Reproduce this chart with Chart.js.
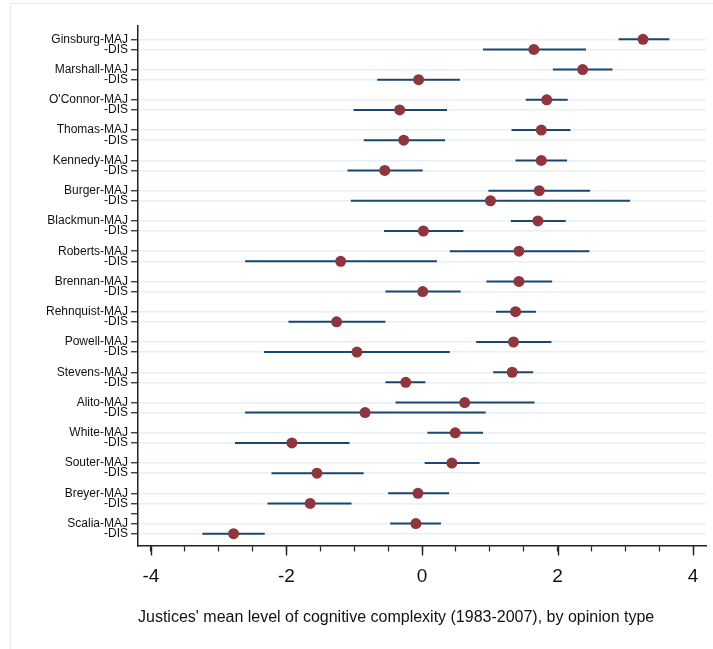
<!DOCTYPE html>
<html>
<head>
<meta charset="utf-8">
<script src="https://cdn.jsdelivr.net/npm/chart.js@4.4.1/dist/chart.umd.min.js"></script>
<style>
  html, body { margin: 0; padding: 0; background: #fff; }
  #wrap { position: relative; width: 713px; height: 649px; overflow: hidden; }
  #frame { position: absolute; left: 10px; top: 3px; width: 720px; height: 660px;
           border-left: 1px solid #e4ecee; border-top: 1px solid #e4ecee; }
  canvas { position: absolute; left: 0; top: 0; }
</style>
</head>
<body>
<div id="wrap">
  <div id="frame"></div>
  <canvas id="chart" width="713" height="649"></canvas>
</div>
<script>
// Justices, ordered top to bottom
const justices = ['Ginsburg', 'Marshall', "O'Connor", 'Thomas', 'Kennedy', 'Burger', 'Blackmun',
  'Roberts', 'Brennan', 'Rehnquist', 'Powell', 'Stevens', 'Alito', 'White', 'Souter', 'Breyer', 'Scalia'];

// majority opinions: mean and interval
const majMean = [3.26, 2.37, 1.84, 1.76, 1.76, 1.73, 1.71, 1.43, 1.43, 1.38, 1.35, 1.33, 0.63, 0.49, 0.44, -0.06, -0.09];
const majLow  = [2.90, 1.93, 1.53, 1.32, 1.38, 0.98, 1.31, 0.41, 0.95, 1.09, 0.80, 1.05, -0.39, 0.08, 0.04, -0.50, -0.47];
const majHigh = [3.65, 2.81, 2.15, 2.19, 2.14, 2.48, 2.12, 2.47, 1.92, 1.68, 1.91, 1.64, 1.66, 0.90, 0.85, 0.40, 0.28];

// dissents: mean and interval
const disMean = [1.65, -0.05, -0.33, -0.27, -0.55, 1.01, 0.02, -1.20, 0.01, -1.26, -0.96, -0.24, -0.84, -1.92, -1.55, -1.65, -2.78];
const disLow  = [0.90, -0.66, -1.01, -0.86, -1.10, -1.05, -0.56, -2.61, -0.54, -1.97, -2.33, -0.54, -2.61, -2.76, -2.22, -2.28, -3.24];
const disHigh = [2.42, 0.56, 0.37, 0.34, 0.01, 3.07, 0.61, 0.22, 0.57, -0.54, 0.41, 0.05, 0.94, -1.07, -0.86, -1.04, -2.32];

// x axis ticks
const xTicks = [-4, -3.5, -3, -2.5, -2, -1.5, -1, -0.5, 0, 0.5, 1, 1.5, 2, 2.5, 3, 3.5, 4];
const xMajor = [-4, -2, 0, 2, 4];
const xTitle = "Justices' mean level of cognitive complexity (1983-2007), by opinion type";

// each justice takes three rows: MAJ, DIS, blank
const yTicks = [];
justices.forEach((name, i) => {
  yTicks.push({ value: i * 3, label: name + '-MAJ' });
  yTicks.push({ value: i * 3 + 1, label: '-DIS' });
});
// unlabelled tick between Breyer and Scalia
yTicks.push({ value: 47, label: '' });
yTicks.sort((a, b) => a.value - b.value);

const dots = [];
const bars = [];
justices.forEach((_, i) => {
  dots.push({ x: majMean[i], y: i * 3 });
  dots.push({ x: disMean[i], y: i * 3 + 1 });
  bars.push({ x: majLow[i], y: i * 3 }, { x: majHigh[i], y: i * 3 }, { x: null, y: i * 3 });
  bars.push({ x: disLow[i], y: i * 3 + 1 }, { x: disHigh[i], y: i * 3 + 1 }, { x: null, y: i * 3 + 1 });
});

const FONT = "'Liberation Sans', Arial, Helvetica, sans-serif";
const navy = 'rgb(26,71,111)';
const maroon = 'rgb(144,53,59)';

// longer marks for the labelled x ticks
const majorTicks = {
  id: 'majorTicks',
  afterDraw(chart) {
    const x = chart.scales.x;
    const ctx = chart.ctx;
    ctx.save();
    ctx.strokeStyle = '#222';
    ctx.lineWidth = 1.4;
    xMajor.forEach(v => {
      const px = Math.round(x.getPixelForValue(v)) + 0.5;
      ctx.beginPath();
      ctx.moveTo(px, x.top);
      ctx.lineTo(px, x.top + 9.5);
      ctx.stroke();
    });
    ctx.restore();
  }
};

new Chart(document.getElementById('chart'), {
  type: 'scatter',
  data: {
    datasets: [
      {
        data: dots,
        order: 0,
        pointRadius: 5.5,
        pointBackgroundColor: maroon,
        pointBorderWidth: 0,
        pointHoverRadius: 5.5
      },
      {
        data: bars,
        order: 1,
        showLine: true,
        spanGaps: false,
        borderColor: navy,
        borderWidth: 2,
        pointRadius: 0,
        pointHoverRadius: 0
      }
    ]
  },
  options: {
    responsive: false,
    animation: false,
    events: [],
    layout: { padding: { left: 10, top: 26, right: 7, bottom: 0 } },
    plugins: { legend: { display: false }, tooltip: { enabled: false } },
    scales: {
      x: {
        type: 'linear',
        min: -4.19,
        max: 4.19,
        afterBuildTicks: s => { s.ticks = xTicks.map(v => ({ value: v })); },
        afterFit: s => { s.height = 103; },
        grid: {
          drawOnChartArea: false,
          drawTicks: true,
          tickLength: 5.5,
          tickColor: '#222',
          tickWidth: 1.2
        },
        border: { color: '#222', width: 1.5 },
        ticks: {
          autoSkip: false,
          maxRotation: 0,
          padding: 14,
          color: '#111',
          font: { family: FONT, size: 19 },
          callback: v => (xMajor.includes(v) ? String(v) : '')
        },
        title: {
          display: true,
          text: xTitle,
          align: 'start',
          color: '#111',
          font: { family: FONT, size: 16 },
          padding: { top: 4, bottom: 22 }
        }
      },
      y: {
        type: 'linear',
        reverse: true,
        min: -1.32,
        max: 50.22,
        afterBuildTicks: s => { s.ticks = yTicks.map(t => ({ value: t.value })); },
        afterFit: s => { s.width = 128; },
        grid: {
          color: c => (c.tick && yTicks.find(t => t.value === c.tick.value && t.label === '') ? 'rgba(0,0,0,0)' : '#eaf0f2'),
          lineWidth: 1.5,
          tickLength: 7,
          tickColor: '#222',
          tickWidth: 1.2
        },
        border: { color: '#222', width: 1.5 },
        ticks: {
          autoSkip: false,
          padding: 3,
          color: '#111',
          font: { family: FONT, size: 12 },
          callback: v => {
            const t = yTicks.find(t => t.value === v);
            return t ? t.label : '';
          }
        }
      }
    }
  },
  plugins: [majorTicks]
});
</script>
</body>
</html>
